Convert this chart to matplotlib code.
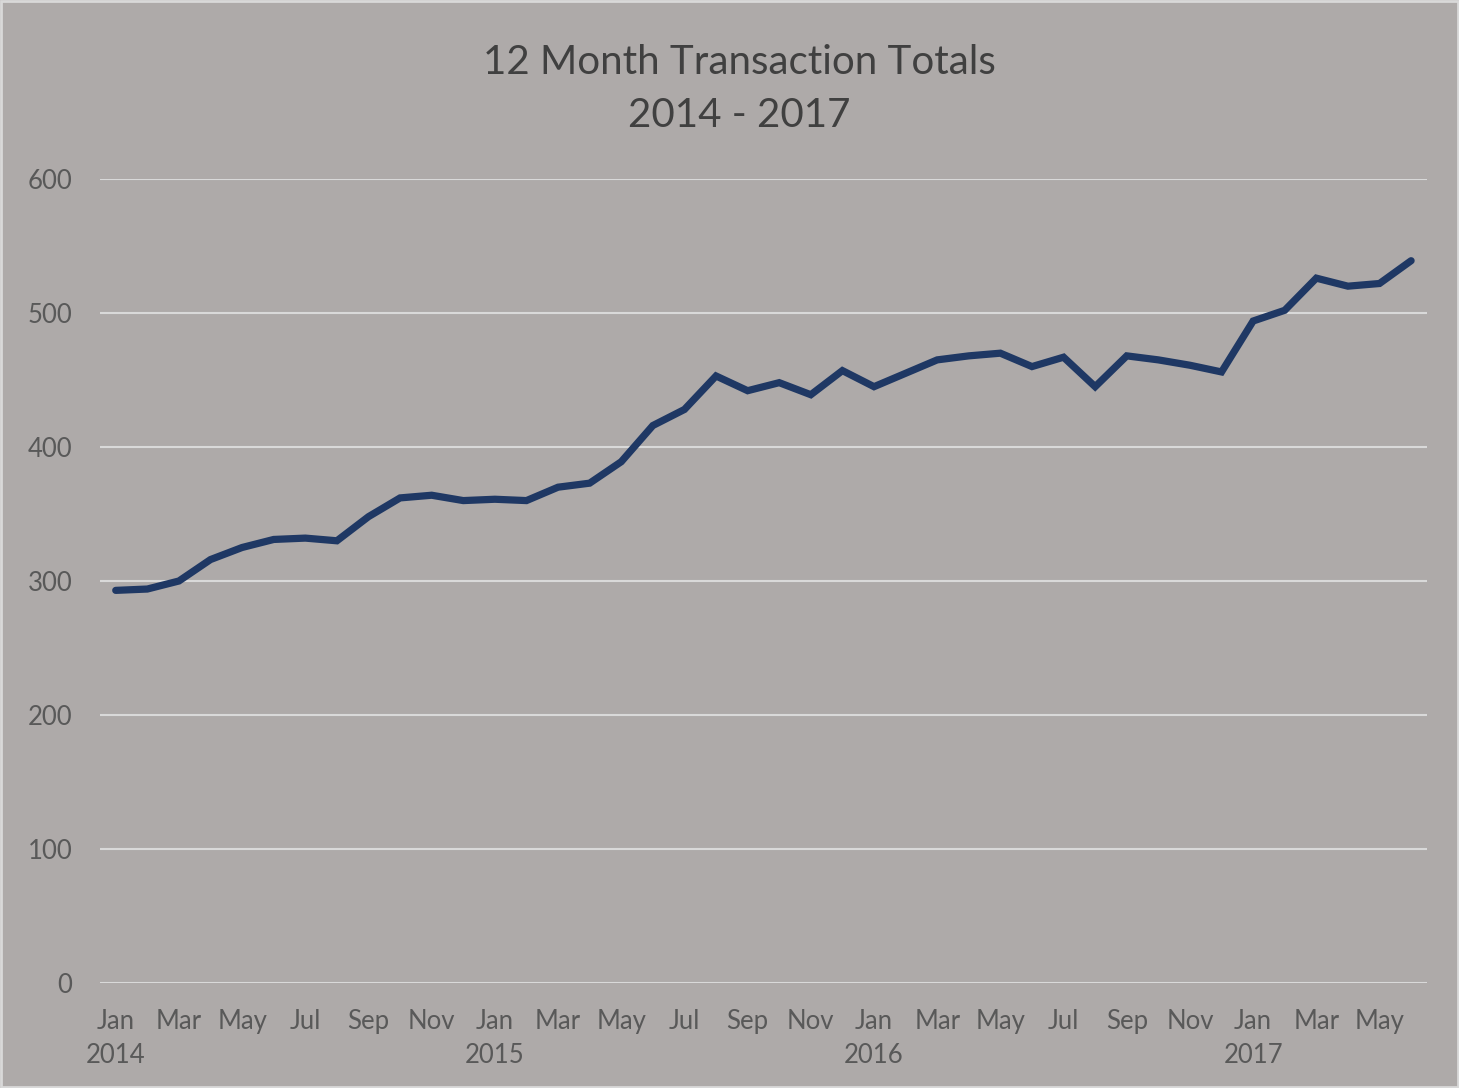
import matplotlib
matplotlib.use('Agg')
import matplotlib.pyplot as plt
from matplotlib.patches import Rectangle

# monthly 12-month transaction totals, Jan 2014 .. Jun 2017
months = ['Jan', 'Feb', 'Mar', 'Apr', 'May', 'Jun',
          'Jul', 'Aug', 'Sep', 'Oct', 'Nov', 'Dec']
years = [2014, 2015, 2016, 2017]
totals = [293, 294, 300, 316, 325, 331, 332, 330, 348, 362, 364, 360,
          361, 360, 370, 373, 389, 416, 428, 453, 442, 448, 439, 457,
          445, 455, 465, 468, 470, 460, 467, 445, 468, 465, 461, 456,
          494, 502, 526, 520, 522, 539]

bg = '#aeaaa9'
txt = '#595959'

fig = plt.figure(figsize=(14.59, 10.88), dpi=100, facecolor=bg)
ax = fig.add_axes([0.0685, 0.0965, 0.9095, 0.739])
ax.set_facecolor(bg)

x = list(range(len(totals)))
ax.plot(x, totals, color='#1f3864', lw=5.2, solid_capstyle='round', solid_joinstyle='miter', zorder=3)

ax.set_ylim(0, 600)
ax.set_xlim(-0.5, len(totals) - 0.5)
ax.set_yticks(range(0, 601, 100))
ax.grid(axis='y', color='#d9d9d9', lw=1.5)
ax.set_axisbelow(True)
for s in ax.spines.values():
    s.set_visible(False)

# month labels every second month, year under each January
labels = []
for i in x:
    m = months[i % 12]
    lab = m if i % 2 == 0 else ''
    if i % 12 == 0:
        lab = m + '\n' + str(years[i // 12])
    labels.append(lab)
ax.set_xticks(x)
ax.set_xticklabels(labels, linespacing=1.45, va='top')
ax.tick_params(axis='both', length=0, labelsize=18.5, labelcolor=txt, pad=19,
               labelfontfamily='Lato')
ax.tick_params(axis='y', pad=20)

fig.text(0.507, 0.96, '12 Month Transaction Totals\n2014 - 2017', ha='center', va='top',
         fontsize=29, color='#404040', family='Lato', linespacing=1.55)

fig.patches.append(Rectangle((0.001, 0.001), 0.998, 0.998, transform=fig.transFigure,
                             fill=False, ec='#d9d9d9', lw=2))

fig.savefig('out.png', dpi=100, facecolor=bg)
